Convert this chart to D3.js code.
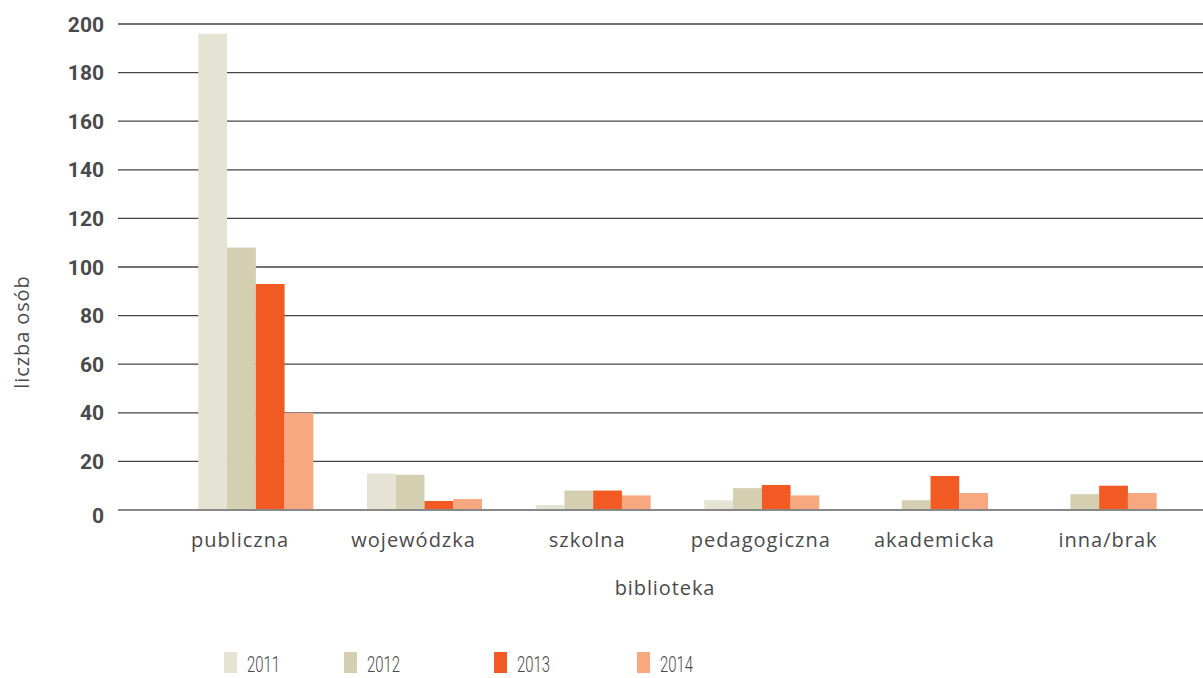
<!DOCTYPE html>
<html>
<head>
<meta charset="utf-8">
<script src="https://cdn.jsdelivr.net/npm/d3@7"></script>
<style>
  body { margin: 0; background: #fff; }
  svg { display: block; }
</style>
</head>
<body>
<svg id="chart" width="1203" height="678"></svg>
<script>
// wartości
const categories = ['publiczna', 'wojewódzka', 'szkolna', 'pedagogiczna', 'akademicka', 'inna/brak']
const years = ['2011', '2012', '2013', '2014']
const values2011 = [196, 15, 2, 4, 0, 0]
const values2012 = [108, 14.5, 8, 9, 4, 6.5]
const values2013 = [93, 3.7, 8, 10.3, 14, 10]
const values2014 = [40, 4.5, 6, 6, 7, 7]
const yTicks = [0, 20, 40, 60, 80, 100, 120, 140, 160, 180, 200]
const colors = ['#e5e3d3', '#d3cfb0', '#f15a22', '#f7a880']

const series = [values2011, values2012, values2013, values2014]

const svg = d3.select('#chart')
const width = 1203

let y = d3.scaleLinear()
	.domain([0, 200])
	.range([510, 24])

let x0 = d3.scaleBand()
	.domain(categories)
	.range([171.5, 1183.5])

let x1 = d3.scaleBand()
	.domain(years)
	.range([0, 115])

// etykiety kategorii nie leżą dokładnie pod grupami
let xLabel = d3.scalePoint()
	.domain(categories)
	.range([240, 1108])

// linie siatki
svg.append('g')
	.selectAll('line')
	.data(yTicks.filter(d => d > 0))
	.join('line')
	.attr('x1', 118)
	.attr('x2', width)
	.attr('y1', d => y(d))
	.attr('y2', d => y(d))
	.style('stroke', '#444')
	.style('stroke-width', 1.3)

svg.append('g')
	.selectAll('text')
	.data(yTicks)
	.join('text')
	.attr('x', 104)
	.attr('y', d => d === 0 ? y(d) + 5 : y(d))
	.attr('dy', '0.36em')
	.attr('text-anchor', 'end')
	.style('font-family', 'Roboto, sans-serif')
	.style('font-weight', 'bold')
	.style('font-size', '21px')
	.style('fill', '#4a4a4c')
	.text(d => d)

// słupki
let groups = svg.append('g')
	.selectAll('g')
	.data(categories)
	.join('g')
	.attr('transform', d => `translate(${x0(d) + (x0.bandwidth() - 115) / 2},0)`)

groups.selectAll('rect')
	.data((d, i) => years.map((yr, j) => ({year: yr, value: series[j][i], color: colors[j]})))
	.join('rect')
	.attr('x', d => x1(d.year))
	.attr('width', x1.bandwidth())
	.attr('y', d => y(d.value))
	.attr('height', d => y(0) - y(d.value))
	.style('fill', d => d.color)

// oś zero
svg.append('line')
	.attr('x1', 118)
	.attr('x2', width)
	.attr('y1', y(0))
	.attr('y2', y(0))
	.style('stroke', '#888')
	.style('stroke-width', 2)

svg.append('g')
	.selectAll('text')
	.data(categories)
	.join('text')
	.attr('x', d => xLabel(d))
	.attr('y', 547)
	.attr('text-anchor', 'middle')
	.style('font-family', '"Open Sans", sans-serif')
	.style('font-size', '20px')
	.style('letter-spacing', '1px')
	.style('fill', '#4a4a4c')
	.text(d => d)

svg.append('text')
	.attr('x', 665)
	.attr('y', 595)
	.attr('text-anchor', 'middle')
	.style('font-family', '"Open Sans", sans-serif')
	.style('font-size', '20px')
	.style('letter-spacing', '0.9px')
	.style('fill', '#4a4a4c')
	.text('biblioteka')

svg.append('text')
	.attr('transform', 'translate(29,332) rotate(-90)')
	.attr('text-anchor', 'middle')
	.style('font-family', '"Open Sans", sans-serif')
	.style('font-size', '20px')
	.style('letter-spacing', '0.9px')
	.style('fill', '#4a4a4c')
	.text('liczba osób')

// legenda
const legendX = [224, 344, 494, 637]
let legend = svg.append('g')
	.selectAll('g')
	.data(years)
	.join('g')
	.attr('transform', (d, i) => `translate(${legendX[i]},652)`)

legend.append('rect')
	.attr('width', 13)
	.attr('height', 21)
	.style('fill', (d, i) => colors[i])

legend.append('text')
	.attr('x', 23)
	.attr('y', 20)
	.attr('textLength', 33)
	.attr('lengthAdjust', 'spacingAndGlyphs')
	.style('font-family', 'Roboto, sans-serif')
	.style('font-weight', 300)
	.style('font-size', '22px')
	.style('fill', '#4a4a4c')
	.text(d => d)
</script>
</body>
</html>
